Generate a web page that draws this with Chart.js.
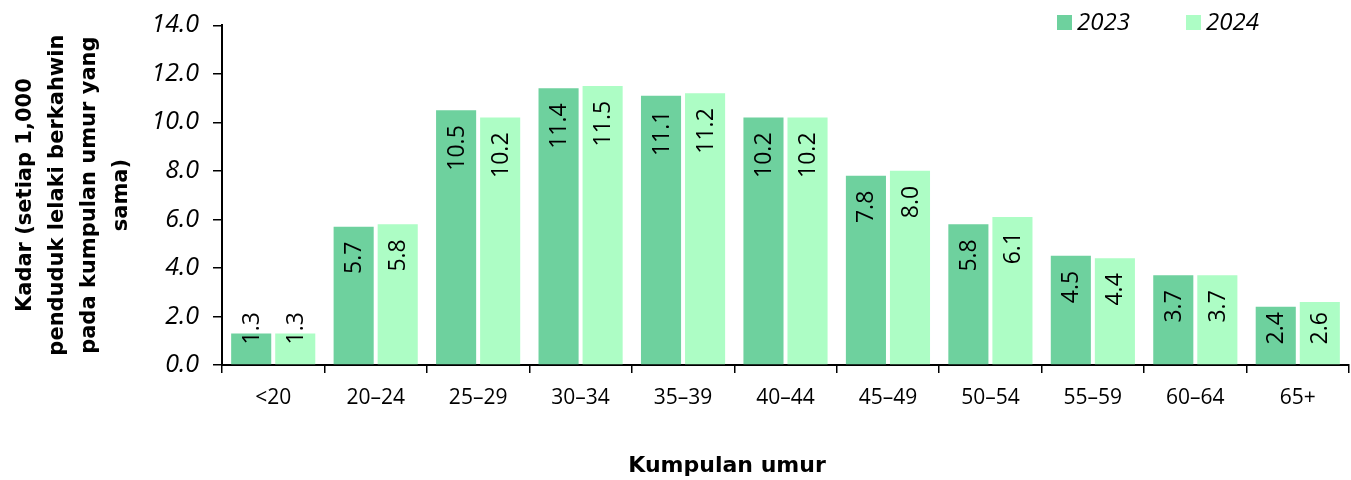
<!DOCTYPE html>
<html>
<head>
<meta charset="utf-8">
<script src="https://cdn.jsdelivr.net/npm/chart.js@4"></script>
<style>
  body { margin: 0; background: #fff; }
  #wrap { width: 1351px; height: 480px; }
</style>
</head>
<body>
<div id="wrap"><canvas id="kadarChart" width="1351" height="480"></canvas></div>
<script>
var ageGroups = ['<20', '20–24', '25–29', '30–34', '35–39', '40–44', '45–49', '50–54', '55–59', '60–64', '65+'];
var rate2023 = [1.3, 5.7, 10.5, 11.4, 11.1, 10.2, 7.8, 5.8, 4.5, 3.7, 2.4];
var rate2024 = [1.3, 5.8, 10.2, 11.5, 11.2, 10.2, 8.0, 6.1, 4.4, 3.7, 2.6];
var seriesNames = ['2023', '2024'];
var seriesColors = ['#6ED19E', '#ADFDC5'];
var yTitle = ['Kadar (setiap 1,000', 'penduduk lelaki berkahwin', 'pada kumpulan umur yang', 'sama)'];
var xTitle = 'Kumpulan umur';

var NUMFONT = "'Open Sans', sans-serif";
var TITLEFONT = "'DejaVu Sans', sans-serif";

// value labels, rotated, near the top inside each bar
var barLabels = {
    id: 'barLabels',
    afterDatasetsDraw: function (chart) {
        var ctx = chart.ctx;
        ctx.save();
        ctx.font = '23px ' + NUMFONT;
        ctx.fillStyle = '#000';
        ctx.textAlign = 'center';
        ctx.textBaseline = 'middle';
        chart.data.datasets.forEach(function (ds, i) {
            chart.getDatasetMeta(i).data.forEach(function (bar, j) {
                var txt = ds.data[j].toFixed(1);
                var w = ctx.measureText(txt).width;
                var cy = Math.min(bar.y + 15 + w / 2, bar.base - 36);
                ctx.save();
                ctx.translate(bar.x, cy);
                ctx.rotate(-Math.PI / 2);
                ctx.fillText(txt, 0, 1);
                ctx.restore();
            });
        });
        ctx.restore();
    }
};

// legend in the top right corner and the x title
var extras = {
    id: 'extras',
    afterDraw: function (chart) {
        var ctx = chart.ctx;
        var area = chart.chartArea;
        ctx.save();
        ctx.font = 'italic 24px ' + NUMFONT;
        ctx.textBaseline = 'middle';
        var starts = [area.right - 292, area.right - 163];
        seriesNames.forEach(function (name, i) {
            ctx.fillStyle = seriesColors[i];
            ctx.fillRect(starts[i], 15, 15, 15);
            ctx.fillStyle = '#000';
            ctx.fillText(name, starts[i] + 20, 23);
        });
        ctx.font = 'bold 22px ' + TITLEFONT;
        ctx.textAlign = 'center';
        ctx.fillText(xTitle, area.left + 505, 466);
        ctx.restore();
    }
};

new Chart('kadarChart', {
    type: 'bar',
    data: {
        labels: ageGroups,
        datasets: [
            { label: seriesNames[0], data: rate2023, backgroundColor: seriesColors[0] },
            { label: seriesNames[1], data: rate2024, backgroundColor: seriesColors[1] }
        ]
    },
    options: {
        responsive: false,
        animation: false,
        events: [],
        categoryPercentage: 0.86,
        barPercentage: 0.91,
        layout: { padding: { top: 20, right: 2, left: 0, bottom: 0 } },
        plugins: {
            legend: { display: false },
            tooltip: { enabled: false }
        },
        scales: {
            x: {
                afterFit: function (scale) { scale.height = 115; },
                border: { display: true, color: '#000', width: 2 },
                grid: { offset: true, drawOnChartArea: false, drawTicks: true, tickLength: 8, color: '#000', lineWidth: 1.5 },
                ticks: { color: '#000', font: { family: NUMFONT, size: 21 }, padding: 12, maxRotation: 0 }
            },
            y: {
                min: 0,
                max: 14,
                afterFit: function (scale) { scale.width = 222; },
                border: { display: true, color: '#000', width: 2 },
                grid: { drawOnChartArea: false, drawTicks: true, tickLength: 9, color: '#000', lineWidth: 1.5 },
                ticks: {
                    stepSize: 2,
                    color: '#000',
                    padding: 14,
                    font: { family: NUMFONT, size: 25, style: 'italic', lineHeight: 0.9 },
                    callback: function (v) { return v.toFixed(1); }
                },
                title: {
                    display: true,
                    text: yTitle,
                    color: '#000',
                    font: { family: TITLEFONT, size: 21, weight: 'bold', lineHeight: 1.52 },
                    padding: { top: 10, bottom: 0 }
                }
            }
        }
    },
    plugins: [barLabels, extras]
});
</script>
</body>
</html>
